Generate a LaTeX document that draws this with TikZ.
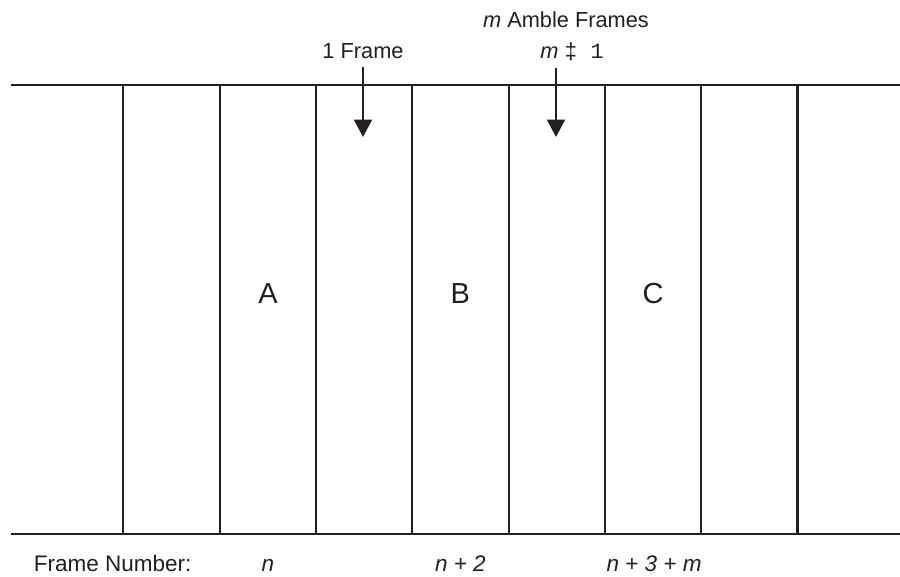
\documentclass[tikz,border=0pt]{standalone}
\usepackage{fontspec}
\setmainfont{Liberation Sans}
\setmonofont{Liberation Mono}
\usetikzlibrary{arrows.meta}
\definecolor{ink}{RGB}{35,31,32}
\tikzset{
	toplabel/.style={anchor=base,font=\fontsize{12.4}{14}\selectfont},
	cellname/.style={anchor=base,font=\fontsize{16.5}{19}\selectfont},
	framenum/.style={anchor=base,font=\fontsize{12.8}{15}\selectfont\itshape},
	marker/.style={-{Triangle[length=0.35cm,width=0.36cm]}}
}

\begin{document}
\begin{tikzpicture}[x=0.02cm,y=-0.02cm,line width=1.2pt,color=ink]
		\useasboundingbox (0,0) rectangle (900,576);
		\draw (11,85) coordinate (topleft) -- (900,85) coordinate (topright);
		\draw (11,534) coordinate (botleft) -- (900,534) coordinate (botright);
		\foreach \i in {0,...,7}
			\draw ({123.4+96.3*\i},85) coordinate (t\i) -- ({123.4+96.3*\i},534) coordinate (b\i);
		\node[cellname] (cellA) at (268,303) {A};
		\node[cellname] (cellB) at (460.4,303) {B};
		\node[cellname] (cellC) at (653,303) {C};
		\node[toplabel] (oneframe) at (363,58) {1 Frame};
		\node[toplabel] (amble) at (566,27.5) {\textit{m} Amble Frames};
		\node[toplabel] (ambleset) at (572,58) {\textit{m} \texttt{‡ 1}};
		\coordinate (frameup) at (363,67);
		\coordinate (framedown) at (363,137);
		\coordinate (ambleup) at (556,68);
		\coordinate (abledown) at (556,137);
		\draw[marker] (frameup) -- (framedown);
		\draw[marker] (ambleup) -- (abledown);
		\node[anchor=base west,font=\fontsize{12.8}{15}\selectfont] (fnum) at (27,571) {Frame Number:};
		\node[framenum] (numA) at (268,571) {n};
		\node[framenum] (numB) at (460.4,571) {n + 2};
		\node[framenum] (numC) at (654,571) {n + 3 + m};
	\end{tikzpicture}
\end{document}
